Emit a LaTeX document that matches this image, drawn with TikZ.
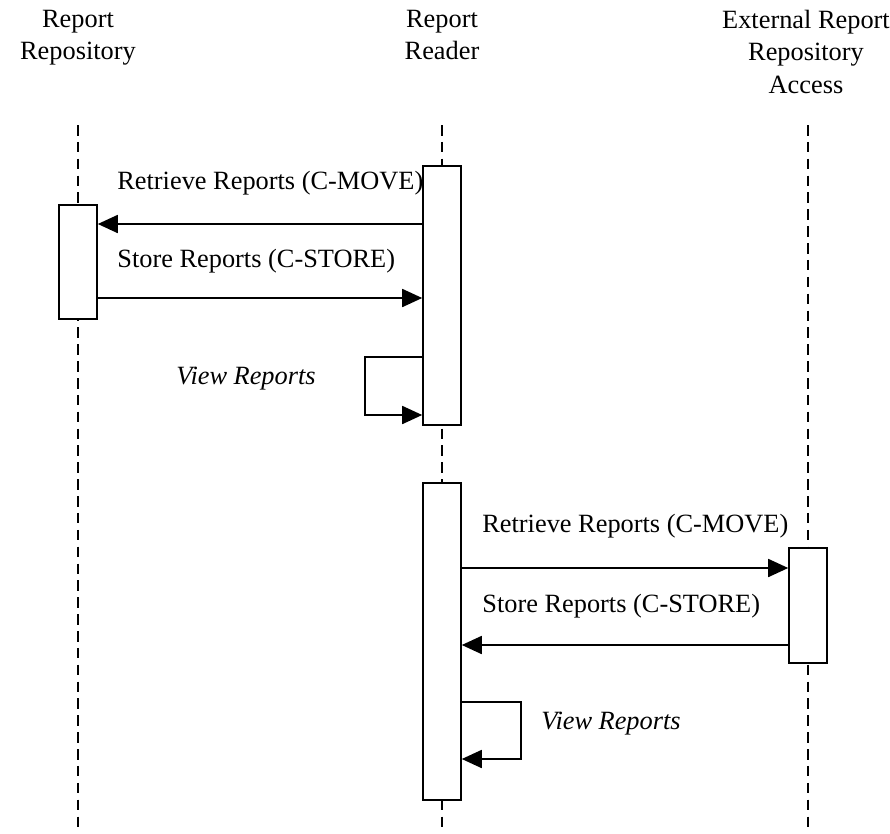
\documentclass[tikz,border=0pt]{standalone}
\usepackage{fontspec}
\setmainfont{Liberation Serif}
\usetikzlibrary{arrows.meta,positioning}

\begin{document}
\begin{tikzpicture}[
  x=0.02cm,y=-0.02cm,
  font=\fontsize{15}{18.4}\selectfont,
  head/.style={align=center,inner sep=0pt,anchor=north},
  life/.style={draw=black,line width=0.9pt,dash pattern=on 6pt off 3.6pt},
  act/.style={draw=black,line width=0.9pt,fill=white,minimum width=0.76cm,inner sep=0pt},
  msg/.style={-{Triangle[length=0.4cm,width=0.36cm]},draw=black,line width=1pt},
  lab/.style={anchor=west,inner sep=0pt}]

\useasboundingbox (0,0) rectangle (890,833);

% ---- lifeline heads -------------------------------------------------------
\node[head] (hrp) at (78,10)  {Report\\Repository};
\node[head] (hrd) at (442,10) {Report\\Reader};
\node[head] (hex) at (806,10) {External Report\\Repository\\Access};

% ---- dashed lifelines, from 125 down to the bottom edge ------------------
\coordinate (top) at (0,125);
\coordinate (bot) at (0,833);
\draw[life] (hrp |- top) -- (hrp |- bot);
\draw[life] (hrd |- top) -- (hrd |- bot);
\draw[life] (808,125) -- (808,833);

% ---- activation boxes ----------------------------------------------------
\node[act,minimum height=2.28cm] (rp1) at (78,262)   {};
\node[act,minimum height=5.18cm] (rd1) at (442,295.5) {};
\node[act,minimum height=6.34cm] (rd2) at (442,641.5) {};
\node[act,minimum height=2.30cm] (ex1) at (808,605.5) {};

% ---- first exchange: reader and repository -------------------------------
\coordinate (m1) at (0,224);
\coordinate (m2) at (0,298);
\draw[msg] (rd1.west |- m1) -- (rp1.east |- m1);
\node[lab] (t1) at (117,183) {Retrieve Reports (C-MOVE)};
\draw[msg] (rp1.east |- m2) -- (rd1.west |- m2);
\node[lab] (t2) at (117,261) {Store Reports (C-STORE)};

\coordinate (v1a) at (0,357);
\coordinate (v1b) at (0,415);
\draw[msg] (rd1.west |- v1a) -- ++(-57,0) |- (rd1.west |- v1b);
\node[lab] (t3) at (176,379) {\itshape View Reports};

% ---- second exchange: reader and external access -------------------------
\coordinate (m3) at (0,568);
\coordinate (m4) at (0,645);
\draw[msg] (rd2.east |- m3) -- (ex1.west |- m3);
\node[lab] (t4) at (482,526) {Retrieve Reports (C-MOVE)};
\draw[msg] (ex1.west |- m4) -- (rd2.east |- m4);
\node[lab] (t5) at (482,606) {Store Reports (C-STORE)};

\coordinate (v2a) at (0,702);
\coordinate (v2b) at (0,759);
\draw[msg] (rd2.east |- v2a) -- ++(59,0) |- (rd2.east |- v2b);
\node[lab] (t6) at (541,724) {\itshape View Reports};
\end{tikzpicture}
\end{document}
